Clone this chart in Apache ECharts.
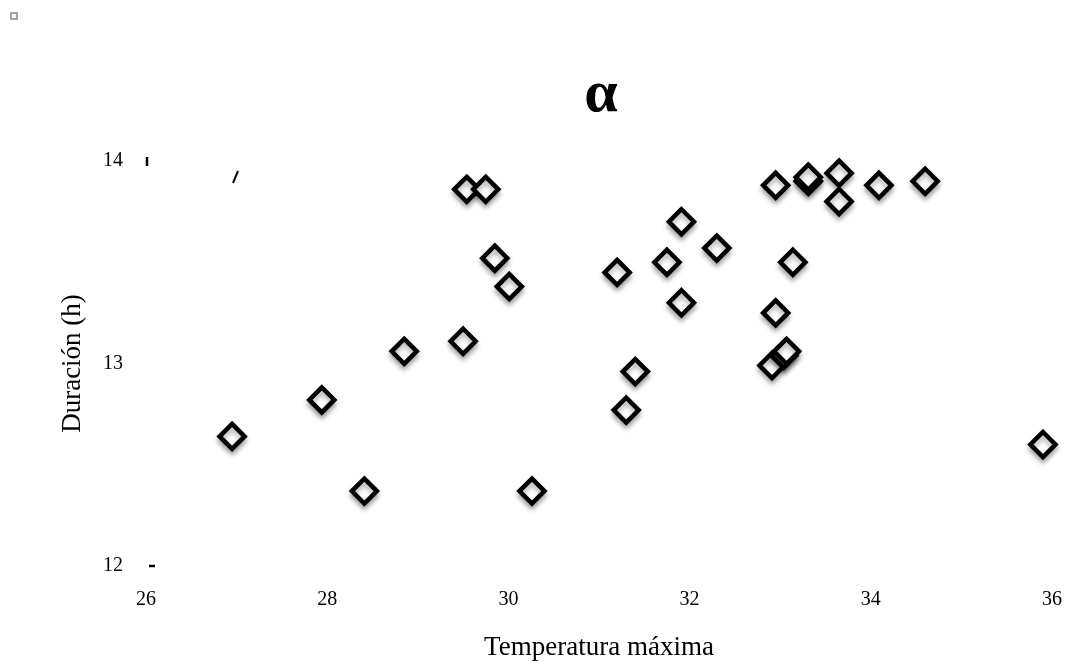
<!DOCTYPE html>
<html>
<head>
<meta charset="utf-8">
<script src="https://cdn.jsdelivr.net/npm/echarts@6/dist/echarts.min.js"></script>
<style>
  html, body { margin: 0; padding: 0; background: #fff; }
  #chart { width: 1071px; height: 667px; }
</style>
</head>
<body>
<div id="chart"></div>
<script>
// datos
const tempMax = [26.95, 27.94, 28.41, 28.85, 29.50, 29.54, 29.75, 29.85, 30.01, 30.26,
                 31.20, 31.30, 31.40, 31.75, 31.91, 31.91, 32.30, 32.91, 32.95, 32.95,
                 33.04, 33.07, 33.14, 33.31, 33.31, 33.65, 33.65, 34.09, 34.60, 35.90];
const duracion = [12.64, 12.82, 12.37, 13.06, 13.11, 13.86, 13.86, 13.52, 13.38, 12.37,
                  13.45, 12.77, 12.96, 13.50, 13.70, 13.30, 13.57, 12.99, 13.25, 13.88,
                  13.04, 13.06, 13.50, 13.90, 13.92, 13.94, 13.80, 13.88, 13.90, 12.60];
const xTicks = [26, 28, 30, 32, 34, 36];
const yTicks = [12, 13, 14];

const points = tempMax.map((t, i) => [t, duracion[i]]);
const serif = '"Liberation Serif", "DejaVu Serif", serif';

const chart = echarts.init(document.getElementById('chart'));
chart.setOption({
  backgroundColor: '#fff',
  animation: false,
  title: {
    text: 'α',
    left: 596,
    top: 60,
    textAlign: 'center',
    textStyle: { fontFamily: serif, fontSize: 60, fontWeight: 'bold', color: '#000' }
  },
  grid: { left: 146, right: 19, top: 161, bottom: 101 },
  xAxis: {
    type: 'value',
    min: xTicks[0],
    max: xTicks[xTicks.length - 1],
    interval: 2,
    name: 'Temperatura máxima',
    nameLocation: 'middle',
    nameGap: 68,
    nameTextStyle: { fontFamily: serif, fontSize: 27, color: '#000' },
    axisLine: { show: false },
    axisTick: { show: false },
    splitLine: { show: false },
    axisLabel: { margin: 24, fontFamily: serif, fontSize: 20, color: '#000' }
  },
  yAxis: {
    type: 'value',
    min: yTicks[0],
    max: yTicks[yTicks.length - 1],
    interval: 1,
    name: 'Duración (h)',
    nameLocation: 'middle',
    nameGap: 60,
    nameTextStyle: { fontFamily: serif, fontSize: 27, color: '#000' },
    axisLine: { show: false },
    axisTick: { show: false },
    splitLine: { show: false },
    axisLabel: { margin: 23, fontFamily: serif, fontSize: 20, color: '#000' }
  },
  series: [{
    type: 'scatter',
    data: points,
    symbol: 'diamond',
    symbolSize: 25,
    itemStyle: {
      opacity: 1,
      color: '#fff',
      borderColor: '#000',
      borderWidth: 4.5,
      shadowBlur: 5,
      shadowOffsetY: 4,
      shadowColor: 'rgba(0,0,0,0.3)'
    }
  }],
  // marcas sueltas que aparecen en la imagen
  graphic: [
    { type: 'rect', shape: { x: 11, y: 13, width: 6, height: 6 },
      style: { fill: '#fff', stroke: '#888', lineWidth: 1.5 } },
    { type: 'line', shape: { x1: 147, y1: 157, x2: 147, y2: 166 },
      style: { stroke: '#000', lineWidth: 2.5 } },
    { type: 'line', shape: { x1: 233, y1: 183, x2: 238, y2: 171 },
      style: { stroke: '#000', lineWidth: 2 } },
    { type: 'line', shape: { x1: 149, y1: 566, x2: 155, y2: 566 },
      style: { stroke: '#000', lineWidth: 2.5 } }
  ]
});
</script>
</body>
</html>
